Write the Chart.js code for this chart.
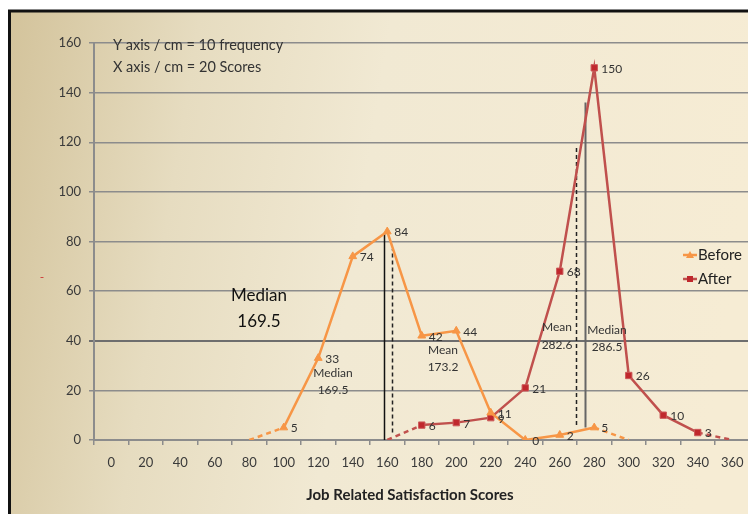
<!DOCTYPE html>
<html>
<head>
<meta charset="utf-8">
<script src="https://cdn.jsdelivr.net/npm/chart.js@4.4.1/dist/chart.umd.min.js"></script>
<style>
  body { margin: 0; overflow: hidden; background: #fff; }
  #wrap { width: 755px; height: 514px; }
</style>
</head>
<body>
<div id="wrap"><canvas id="scoresChart" width="755" height="514"></canvas></div>
<script>
// Scores on the x axis (category per 20 points)
const scores = ["0", "20", "40", "60", "80", "100", "120", "140", "160", "180",
  "200", "220", "240", "260", "280", "300", "320", "340", "360"];

// Frequencies (null = no point)
const before = [null, null, null, null, 0, 5, 33, 74, 84, 42, 44, 11, 0, 2, 5, 0, null, null, null];
const after = [null, null, null, null, null, null, null, null, 0, 6, 7, 9, 21, 68, 150, 26, 10, 3, 0];

// Mean / median guide lines: score where drawn, bottom and top frequency
const guideScores = [158.3, 163, 269.5, 274.6];
const guideBottoms = [0, 3, 6, 5];
const guideTops = [83, 77, 118, 136];
const guideDashed = [false, true, true, false];

const FONT = "Lato, 'Open Sans', sans-serif";

function firstIdx(arr) { return arr.findIndex(v => v !== null); }
function lastIdx(arr) {
  for (let i = arr.length - 1; i >= 0; i--) if (arr[i] !== null) return i;
  return -1;
}

function edgeOptions(arr) {
  const f = firstIdx(arr), l = lastIdx(arr);
  return {
    radius: (ctx) => (ctx.dataIndex === f || ctx.dataIndex === l) ? 0 : 4.5,
    dash: (ctx) => (ctx.p0DataIndex === f || ctx.p1DataIndex === l) ? [5, 4] : undefined
  };
}
const beforeEdge = edgeOptions(before);
const afterEdge = edgeOptions(after);

// background frame
const backdrop = {
  id: "backdrop",
  beforeDraw(chart) {
    const c = chart.ctx;
    c.save();
    c.fillStyle = "#fff";
    c.fillRect(0, 0, chart.width, chart.height);
    const g = c.createLinearGradient(10, 0, 760, 120);
    g.addColorStop(0, "#d3c39b");
    g.addColorStop(0.25, "#e6dcc0");
    g.addColorStop(0.5, "#f1e9d3");
    g.addColorStop(1, "#f6ecd4");
    c.fillStyle = g;
    c.fillRect(9, 11, chart.width, chart.height);
    c.strokeStyle = "#111";
    c.lineWidth = 3;
    c.beginPath();
    c.moveTo(9.5, chart.height);
    c.lineTo(9.5, 11);
    c.lineTo(chart.width, 11);
    c.stroke();
    c.restore();
  }
};

// mean / median guide lines
const guides = {
  id: "guides",
  beforeDatasetsDraw(chart) {
    const c = chart.ctx, x = chart.scales.x, y = chart.scales.y;
    c.save();
    guideScores.forEach((s, i) => {
      const px = Math.round(x.getPixelForValue(s / 20)) + 0.5;
      c.beginPath();
      c.setLineDash(guideDashed[i] ? [4, 3] : []);
      c.strokeStyle = guideDashed[i] ? "#222" : (i === 0 ? "#111" : "#666");
      c.lineWidth = i === 3 ? 2 : 1.5;
      c.moveTo(px, y.getPixelForValue(guideBottoms[i]));
      c.lineTo(px, y.getPixelForValue(guideTops[i]));
      c.stroke();
    });
    c.restore();
  }
};

// value labels, notes, legend and titles
const notes = {
  id: "notes",
  afterDatasetsDraw(chart) {
    const c = chart.ctx;
    c.save();
    c.font = "12px " + FONT;
    c.fillStyle = "#333";
    c.textAlign = "left";
    c.textBaseline = "middle";
    chart.data.datasets.forEach((ds, di) => {
      const meta = chart.getDatasetMeta(di);
      const f = firstIdx(ds.data), l = lastIdx(ds.data);
      meta.data.forEach((pt, i) => {
        if (ds.data[i] === null || i === f || i === l) return;
        c.fillText(String(ds.data[i]), pt.x + 7, pt.y + 1);
      });
    });

    c.fillStyle = "#333";
    c.font = "14.5px " + FONT;
    c.fillText("Y axis / cm = 10 frequency", 113, 45);
    c.fillText("X axis / cm = 20 Scores", 113, 67);

    c.fillStyle = "#111";
    c.textAlign = "center";
    c.font = "17px " + FONT;
    c.fillText("Median", 259, 296);
    c.fillText("169.5", 259, 322);

    c.fillStyle = "#333";
    c.font = "12px " + FONT;
    [["Median", 333, 373], ["169.5", 333, 390], ["Mean", 443, 350], ["173.2", 443, 367],
     ["Mean", 557, 327], ["282.6", 557, 345], ["Median", 607, 330], ["286.5", 607, 347]]
      .forEach(t => c.fillText(t[0], t[1], t[2]));

    c.fillStyle = "#c33";
    c.fillText("-", 42, 277);

    c.fillStyle = "#222";
    c.font = "bold 15px " + FONT;
    c.fillText("Job Related Satisfaction Scores", 410, 495);

    // legend
    const items = [["Before", "#f79646", "triangle", 255], ["After", "#c0504d", "rect", 279]];
    items.forEach(it => {
      const yy = it[3];
      c.strokeStyle = it[1];
      c.lineWidth = 2.5;
      c.beginPath();
      c.moveTo(683, yy);
      c.lineTo(697, yy);
      c.stroke();
      c.fillStyle = it[2] === "rect" ? "#c0282d" : it[1];
      if (it[2] === "rect") {
        c.fillRect(687, yy - 3, 6, 6);
      } else {
        c.beginPath();
        c.moveTo(690, yy - 4);
        c.lineTo(694, yy + 3);
        c.lineTo(686, yy + 3);
        c.closePath();
        c.fill();
      }
      c.fillStyle = "#222";
      c.textAlign = "left";
      c.font = "15px " + FONT;
      c.fillText(it[0], 698, yy);
    });
    c.restore();
  }
};

const ctx = document.getElementById("scoresChart").getContext("2d");

new Chart(ctx, {
  type: "line",
  data: {
    labels: scores,
    datasets: [
      {
        label: "Before",
        data: before,
        borderColor: "#f79646",
        backgroundColor: "#f79646",
        borderWidth: 2.5,
        pointStyle: "triangle",
        pointRadius: beforeEdge.radius,
        pointBorderWidth: 1,
        pointBorderColor: "#f79646",
        tension: 0,
        segment: { borderDash: beforeEdge.dash }
      },
      {
        label: "After",
        data: after,
        borderColor: "#c0504d",
        backgroundColor: "#c0282d",
        borderWidth: 2.5,
        pointStyle: "rect",
        pointRadius: afterEdge.radius,
        pointBorderWidth: 1,
        pointBorderColor: "#cc5a5a",
        tension: 0,
        segment: { borderDash: afterEdge.dash }
      }
    ]
  },
  plugins: [backdrop, guides, notes],
  options: {
    responsive: false,
    animation: false,
    layout: { padding: { left: 0, top: 43, right: 0, bottom: 0 } },
    plugins: {
      legend: { display: false },
      tooltip: { enabled: false }
    },
    scales: {
      x: {
        offset: true,
        afterFit: (scale) => { scale.height = 74; },
        grid: {
          offset: true,
          drawOnChartArea: false,
          tickLength: 5,
          color: "#8c8c8c",
          lineWidth: 1.5
        },
        border: { color: "#8c8c8c", width: 2 },
        ticks: {
          padding: 10,
          color: "#3a3a3a",
          font: { family: FONT, size: 13 },
          maxRotation: 0,
          autoSkip: false
        }
      },
      y: {
        min: 0,
        max: 160,
        afterFit: (scale) => { scale.width = 94; },
        grid: {
          color: (c) => c.tick && c.tick.value === 40 ? "#6e6e6e" : "#8c8c8c",
          lineWidth: (c) => c.tick && c.tick.value === 40 ? 2 : 1.5,
          tickLength: 5
        },
        border: { color: "#8c8c8c", width: 2 },
        ticks: {
          stepSize: 20,
          padding: 8,
          color: "#3a3a3a",
          font: { family: FONT, size: 13 }
        }
      }
    }
  }
});
</script>
</body>
</html>
